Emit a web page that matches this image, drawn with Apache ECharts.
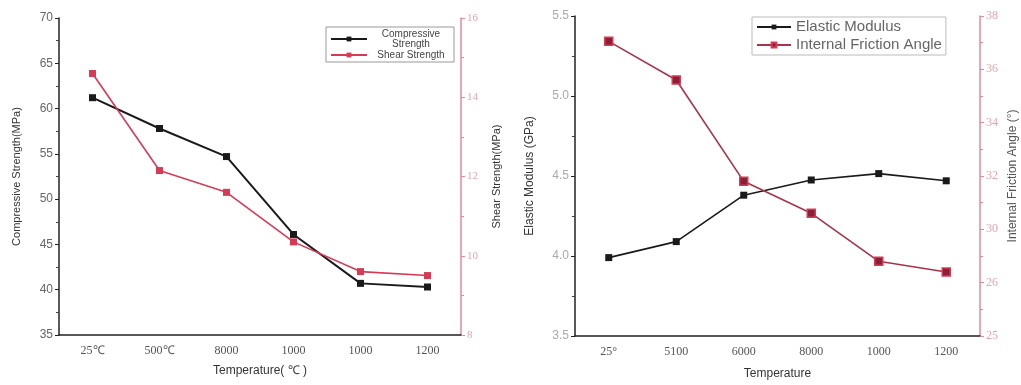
<!DOCTYPE html>
<html>
<head>
<meta charset="utf-8">
<script src="https://cdn.jsdelivr.net/npm/echarts@6/dist/echarts.min.js"></script>
<style>
  html, body { margin: 0; padding: 0; background: #fff; }
  #main { width: 1021px; height: 385px; }
</style>
</head>
<body>
<div id="main"></div>
<script>
// left chart - strength vs temperature
var tempLeft = ['25℃', '500℃', '8000', '1000', '1000', '1200'];
var compressive = [61.2, 57.8, 54.7, 46.1, 40.7, 40.3];
var shear = [14.6, 12.15, 11.6, 10.35, 9.6, 9.5];

// right chart - modulus / friction angle vs temperature
var tempRight = ['25°', '5100', '6000', '8000', '1000', '1200'];
var modulus = [3.99, 4.09, 4.38, 4.475, 4.515, 4.47];
var friction = [37.05, 35.6, 31.8, 30.6, 28.8, 28.4];
// tick labels of the friction axis as printed (values 26..38)
var frictionTicks = ['25', '26', '30', '32', '34', '36', '38'];

var black = '#1a1a1a';
var red = '#d83a55';
var pinkAxis = '#e38a9a';

var chart = echarts.init(document.getElementById('main'));

function catAxis(grid, data, name, gap, withLabel) {
  return {
    type: 'category',
    gridIndex: grid,
    data: data,
    name: withLabel ? name : '',
    nameLocation: 'middle',
    nameGap: gap,
    nameTextStyle: { color: '#333', fontSize: 12, fontFamily: 'Liberation Sans' },
    axisLine: { show: withLabel, lineStyle: { color: '#222', width: 1.5 } },
    axisTick: withLabel
      ? { alignWithLabel: true, length: 5, lineStyle: { color: '#222' } }
      : { length: 3, lineStyle: { color: '#444' } },
    axisLabel: { show: withLabel, color: '#555', fontSize: 12, margin: 10, fontFamily: 'Liberation Serif' },
    splitLine: { show: false }
  };
}

var option = {
  backgroundColor: '#fff',
  animation: false,
  grid: [
    { left: 59, right: 560, top: 18, bottom: 50 },
    { left: 575, right: 41, top: 16, bottom: 49 }
  ],
  legend: [
    {
      data: ['Compressive\nStrength', 'Shear Strength'],
      orient: 'vertical',
      left: 326, top: 27,
      itemWidth: 36, itemHeight: 6, itemGap: 1,
      padding: [2, 4, 2, 4],
      borderColor: '#999', borderWidth: 1,
      formatter: function (name) { return '{t|' + name.split('\n').join('}\n{t|') + '}'; },
      textStyle: {
        fontSize: 10, color: '#444',
        rich: { t: { width: 78, align: 'center', fontSize: 10, lineHeight: 10, color: '#444' } }
      }
    },
    {
      data: ['Elastic Modulus', 'Internal Friction Angle'],
      orient: 'vertical',
      left: 752, top: 17,
      itemWidth: 34, itemHeight: 6, itemGap: 2,
      padding: [2, 4, 2, 4],
      borderColor: '#bbb', borderWidth: 1,
      textStyle: { fontSize: 15, color: '#666', fontFamily: 'Liberation Sans', lineHeight: 16 }
    }
  ],
  xAxis: [
    catAxis(0, tempLeft, 'Temperature( ℃ )', 30, true),
    catAxis(0, tempLeft, '', 0, false),
    catAxis(1, tempRight, 'Temperature', 32, true),
    catAxis(1, tempRight, '', 0, false)
  ],
  yAxis: [
    {
      type: 'value', gridIndex: 0, position: 'left',
      min: 35, max: 70, interval: 5,
      name: 'Compressive Strength(MPa)', nameLocation: 'middle', nameGap: 37, nameRotate: 90,
      nameTextStyle: { color: '#333', fontSize: 11, fontFamily: 'Liberation Sans' },
      axisLine: { show: true, lineStyle: { color: '#222', width: 1.5 } },
      axisTick: { show: true, length: 4, lineStyle: { color: '#222' } },
      minorTick: { show: true, splitNumber: 2, length: 3, lineStyle: { color: '#444' } },
      axisLabel: { color: '#666', fontSize: 12, margin: 6 },
      splitLine: { show: false }
    },
    {
      type: 'value', gridIndex: 0, position: 'right',
      min: 8, max: 16, interval: 2,
      name: 'Shear Strength(MPa)', nameLocation: 'middle', nameGap: 30, nameRotate: 90,
      nameTextStyle: { color: '#333', fontSize: 11, fontFamily: 'Liberation Sans' },
      axisLine: { show: true, lineStyle: { color: pinkAxis, width: 1.5 } },
      axisTick: { show: true, length: 4, lineStyle: { color: pinkAxis } },
      minorTick: { show: true, splitNumber: 2, length: 3, lineStyle: { color: pinkAxis } },
      axisLabel: { color: '#e6a3ad', fontSize: 11, margin: 6, fontFamily: 'Liberation Serif' },
      splitLine: { show: false }
    },
    {
      type: 'value', gridIndex: 1, position: 'left',
      min: 3.5, max: 5.5, interval: 0.5,
      name: 'Elastic Modulus (GPa)', nameLocation: 'middle', nameGap: 39, nameRotate: 90,
      nameTextStyle: { color: '#333', fontSize: 12, fontFamily: 'Liberation Sans' },
      axisLine: { show: true, lineStyle: { color: '#222', width: 1.5 } },
      axisTick: { show: true, length: 4, lineStyle: { color: '#222' } },
      minorTick: { show: true, splitNumber: 2, length: 3, lineStyle: { color: '#444' } },
      axisLabel: { color: '#aaa', fontSize: 12, margin: 6, formatter: function (v) { return v.toFixed(1); } },
      splitLine: { show: false }
    },
    {
      type: 'value', gridIndex: 1, position: 'right',
      min: 26, max: 38, interval: 2,
      name: 'Internal Friction Angle (°)', nameLocation: 'middle', nameGap: 27, nameRotate: 90,
      nameTextStyle: { color: '#555', fontSize: 12, fontFamily: 'Liberation Sans' },
      axisLine: { show: true, lineStyle: { color: pinkAxis, width: 1.5 } },
      axisTick: { show: true, length: 4, lineStyle: { color: pinkAxis } },
      minorTick: { show: true, splitNumber: 2, length: 3, lineStyle: { color: pinkAxis } },
      axisLabel: {
        color: '#e6a3ad', fontSize: 12, margin: 6, fontFamily: 'Liberation Serif',
        formatter: function (v) { return frictionTicks[Math.round((v - 26) / 2)]; }
      },
      splitLine: { show: false }
    }
  ],
  series: [
    {
      name: 'Compressive\nStrength', type: 'line',
      xAxisIndex: 0, yAxisIndex: 0,
      data: compressive,
      symbol: 'rect', symbolSize: 7,
      itemStyle: { color: black },
      lineStyle: { color: black, width: 2 }
    },
    {
      name: 'Shear Strength', type: 'line',
      xAxisIndex: 0, yAxisIndex: 1,
      data: shear,
      symbol: 'rect', symbolSize: 7,
      itemStyle: { color: red },
      lineStyle: { color: red, width: 1.6 }
    },
    {
      name: 'Elastic Modulus', type: 'line',
      xAxisIndex: 2, yAxisIndex: 2,
      data: modulus,
      symbol: 'rect', symbolSize: 7,
      itemStyle: { color: black },
      lineStyle: { color: black, width: 1.6 }
    },
    {
      name: 'Internal Friction Angle', type: 'line',
      xAxisIndex: 2, yAxisIndex: 3,
      data: friction,
      symbol: 'rect', symbolSize: 8,
      itemStyle: { color: '#8a1f35', borderColor: red, borderWidth: 1.5 },
      lineStyle: { color: '#a8334a', width: 1.6 }
    }
  ]
};

chart.setOption(option);
</script>
</body>
</html>
